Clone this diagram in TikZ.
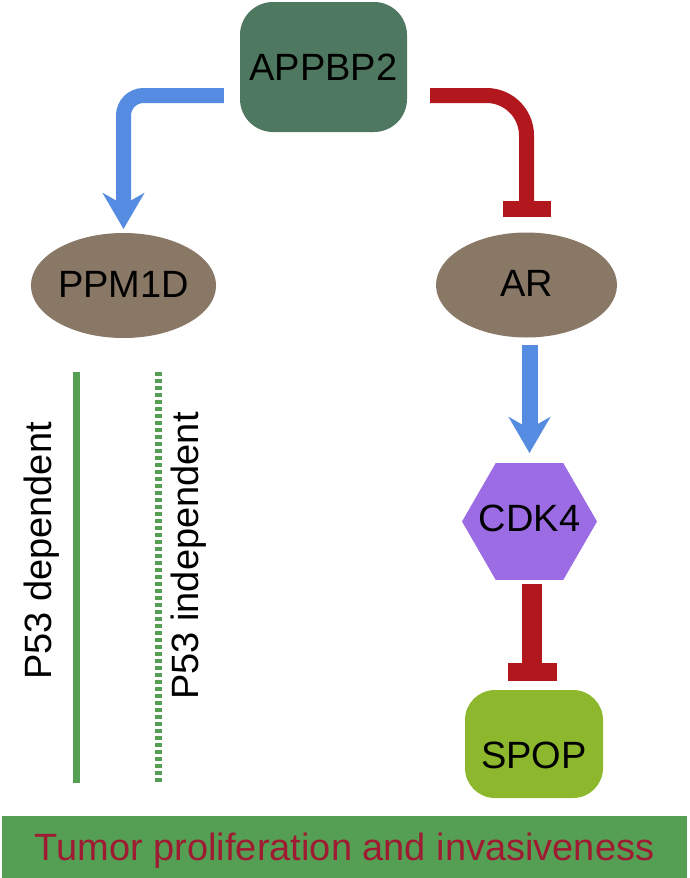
\documentclass[tikz,border=0pt]{standalone}
\usepackage{fontspec}
\setmainfont{Liberation Sans}
\usetikzlibrary{arrows.meta,shapes.geometric}
\definecolor{appgreen}{HTML}{4F7860}
\definecolor{protbrown}{HTML}{8A7866}
\definecolor{actblue}{HTML}{558BE0}
\definecolor{inhred}{HTML}{B2171E}
\definecolor{hexpurple}{HTML}{9B6CE3}
\definecolor{spopgreen}{HTML}{8DB72C}
\definecolor{pathgreen}{HTML}{559F55}
\definecolor{tumorred}{HTML}{9E1B32}
\tikzset{
	gene/.style={inner sep=0pt, text height=27pt, text depth=0pt,
			font=\fontsize{38}{44}\selectfont},
	genebox/.style={gene, rectangle, rounded corners=33pt},
	protein/.style={gene, ellipse, fill=protbrown, text height=23pt,
			minimum width=181pt, minimum height=105pt},
	kinase/.style={gene, regular polygon, regular polygon sides=6,
			fill=hexpurple, minimum size=135pt, text height=20pt},
	act/.style={actblue, line width=15pt,
			-{Stealth[length=36pt,width=42pt,inset=12pt,line width=0.1pt]}},
	inh/.style={inhred, line width=15pt,
			-{Rectangle[length=15pt,width=48pt,line width=0.1pt]}},
	route/.style={pathgreen, line width=7pt}
}

\begin{document}
\begin{tikzpicture}[x=1pt,y=-1pt]
	\useasboundingbox (0,0) rectangle (689,878);
	\node[genebox, fill=appgreen, minimum width=167pt, minimum height=130pt] (appbp2) at (323.5,67) {APPBP2};
	\node[protein] (ppm1d) at (123.5,285.5) {PPM1D};
	\node[protein] (ar) at (526.5,285) {AR};
	\node[kinase] (cdk4) at (529.5,521.5) {\makebox[0pt]{CDK4}};
	\node[genebox, fill=spopgreen, rounded corners=30pt, minimum width=138pt, minimum height=108pt, text height=49pt] (spop) at (534,744) {SPOP};
	\node[gene, fill=pathgreen, text=tumorred, minimum width=685pt, minimum height=63pt] (tumor) at (344.5,847) {Tumor proliferation and invasiveness};
	\node[gene, rotate=90] (dep) at (38,551) {P53 dependent};
	\node[gene, rotate=90] (indep) at (184.5,556) {P53 independent};
	\coordinate (dep top) at (76.5,372);
	\coordinate (dep bottom) at (76.5,783);
	\coordinate (indep top) at (158,372);
	\coordinate (indep bottom) at (158,783);
	\draw[act, rounded corners=20pt] ([xshift=-16pt,yshift=-28.5pt]appbp2.west) -| ([yshift=4pt]ppm1d.north);
	\draw[inh, rounded corners=40pt] ([xshift=23pt,yshift=-28.5pt]appbp2.east) -| ([yshift=16pt]ar.north);
	\draw[act, line width=16pt] ([yshift=-7pt]cdk4.north |- ar.south) -- ([yshift=10pt]cdk4.north);
	\draw[inh, line width=20pt, -{Rectangle[length=17pt,width=49pt,line width=0.1pt]}] ([xshift=2.5pt,yshift=-4pt]cdk4.south) -- ([xshift=2.5pt,yshift=10pt]cdk4.south |- spop.north);
	\draw[route] (dep top) -- (dep bottom);
	\draw[route, dash pattern=on 4pt off 3pt] (indep top) -- (indep bottom);
\end{tikzpicture}
\end{document}
